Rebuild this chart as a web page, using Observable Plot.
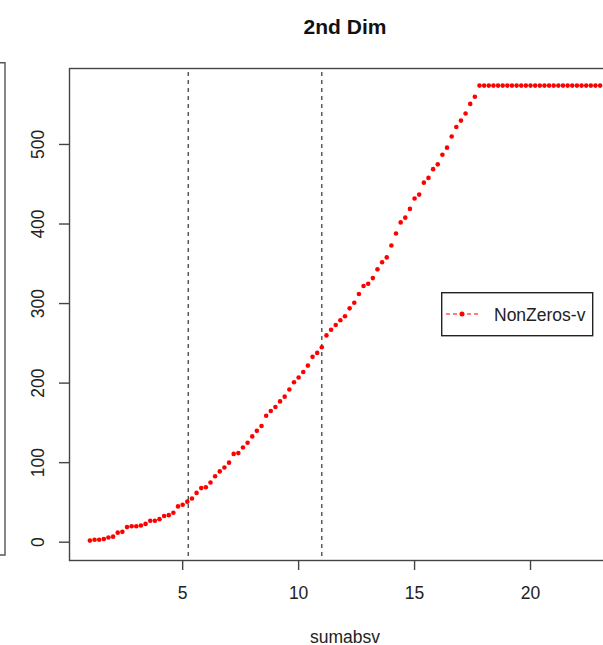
<!DOCTYPE html>
<html>
<head>
<meta charset="utf-8">
<script src="https://cdn.jsdelivr.net/npm/d3@7"></script>
<script src="https://cdn.jsdelivr.net/npm/@observablehq/plot@0.6"></script>
<style>
  html, body { margin: 0; padding: 0; background: #fff; overflow: hidden; }
  #chart { position: relative; width: 603px; height: 645px; overflow: hidden; }
  #chart svg { max-width: none !important; display: block; }
</style>
</head>
<body>
<div id="chart"></div>
<script>
// sumabsv values
const sumabsv = [1,1.2,1.4,1.6,1.8,2,2.2,2.4,2.6,2.8,3,3.2,3.4,3.6,3.8,4,4.2,4.4,4.6,4.8,
  5,5.2,5.4,5.6,5.8,6,6.2,6.4,6.6,6.8,7,7.2,7.4,7.6,7.8,8,8.2,8.4,8.6,8.8,
  9,9.2,9.4,9.6,9.8,10,10.2,10.4,10.6,10.8,11,11.2,11.4,11.6,11.8,12,12.2,12.4,12.6,12.8,
  13,13.2,13.4,13.6,13.8,14,14.2,14.4,14.6,14.8,15,15.2,15.4,15.6,15.8,16,16.2,16.4,16.6,16.8,
  17,17.2,17.4,17.6,17.8,18,18.2,18.4,18.6,18.8,19,19.2,19.4,19.6,19.8,20,20.2,20.4,20.6,20.8,
  21,21.2,21.4,21.6,21.8,22,22.2,22.4,22.6,22.8,23];
// NonZeros-v values
const nonZeros = [2,3,3,4,6,7,12,13,19,20,20,21,23,27,27,29,33,34,37,45,
  47,51,55,62,68,69,75,83,89,94,100,111,112,119,125,133,140,146,159,165,
  170,177,183,192,201,207,214,222,233,238,245,260,267,273,279,284,294,301,312,322,
  325,332,343,352,358,373,388,402,408,419,432,437,452,458,469,475,487,496,510,522,
  530,539,551,560,574,574,574,574,574,574,574,574,574,574,574,574,574,574,574,574,
  574,574,574,574,574,574,574,574,574,574,574];
const vLines = [5.24, 11.0];
const xTicks = [5, 10, 15, 20];
const yTicks = [0, 100, 200, 300, 400, 500];
const titleText = "2nd Dim";
const xLabel = "sumabsv";
const legendLabel = "NonZeros-v";

const data = sumabsv.map((x, i) => ({x, y: nonZeros[i]}));

const W = 625, H = 645;
const plot = Plot.plot({
  width: W,
  height: H,
  marginLeft: 69,
  marginRight: 5,
  marginTop: 68,
  marginBottom: 85,
  style: {fontFamily: "'Liberation Sans', Arial, sans-serif", fontSize: "17.5px", color: "#222", background: "#fff", maxWidth: "none"},
  x: {domain: [0.12, 23.88]},
  y: {domain: [-23, 595.5]},
  marks: [
    Plot.ruleX(vLines, {stroke: "#333", strokeWidth: 1.2, strokeDasharray: "4,4", strokeDashoffset: 4}),
    Plot.dot(data, {x: "x", y: "y", r: 2.3, fill: "#ff0000", stroke: "none"}),
    Plot.frame({stroke: "#444", strokeWidth: 1.4}),
    Plot.axisX({ticks: xTicks, tickSize: 10, tickPadding: 16.5, label: null, stroke: "#444", strokeWidth: 1.4}),
    Plot.axisY({ticks: yTicks, tickSize: 10, tickPadding: 15.5, tickRotate: -90, label: null, stroke: "#444", strokeWidth: 1.4}),
    Plot.text([xLabel], {frameAnchor: "bottom", text: d => d, dy: 82, lineAnchor: "bottom", fontSize: 17.5, fill: "#222"}),
    Plot.text([titleText], {frameAnchor: "top", text: d => d, dy: -35, lineAnchor: "bottom", fontSize: 21, fontWeight: "bold", fill: "#111"})
  ]
});
plot.style.maxWidth = "none";
plot.setAttribute("width", W);
plot.setAttribute("height", H);
document.getElementById("chart").appendChild(plot);

// decorations: partial neighbouring panel frame and legend box
const svg = d3.select(plot);
svg.append("path")
  .attr("d", "M0,62.7H5V555H0")
  .attr("fill", "none").attr("stroke", "#555").attr("stroke-width", 1.4);

const lg = svg.append("g");
lg.append("rect").attr("x", 441.7).attr("y", 292.7).attr("width", 151).attr("height", 43)
  .attr("fill", "#fff").attr("stroke", "#222").attr("stroke-width", 1.4);
lg.append("line").attr("x1", 446).attr("x2", 478).attr("y1", 314).attr("y2", 314)
  .attr("stroke", "#ff0000").attr("stroke-width", 1.2).attr("stroke-dasharray", "4,3");
lg.append("circle").attr("cx", 462).attr("cy", 314).attr("r", 2.5).attr("fill", "#ff0000");
lg.append("text").attr("x", 494).attr("y", 320.5).attr("text-anchor", "start")
  .attr("font-size", "17.5px").attr("fill", "#222").text(legendLabel);
</script>
</body>
</html>
